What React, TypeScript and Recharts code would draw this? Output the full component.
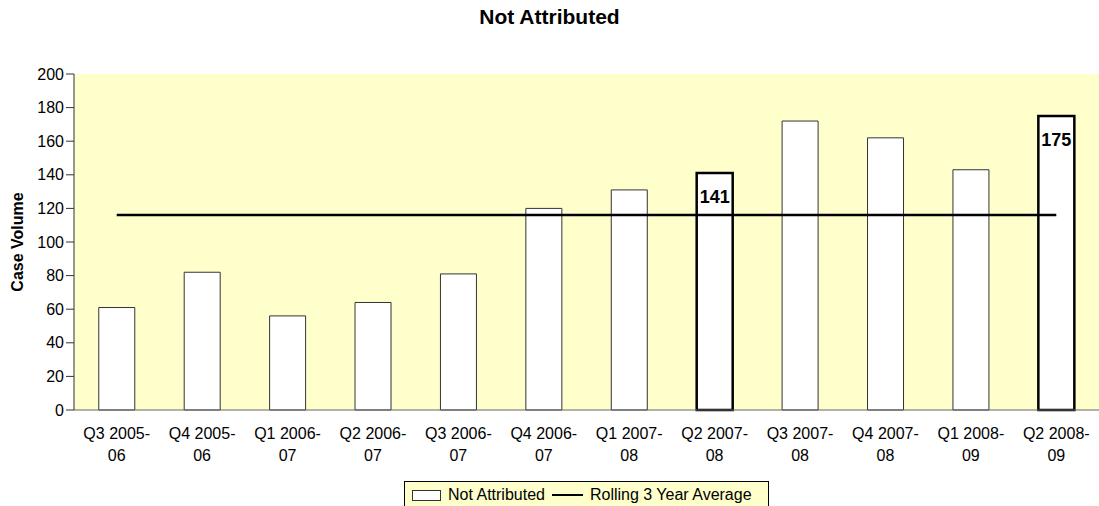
import { Bar, Cell, ComposedChart, LabelList, Line, XAxis, YAxis, Label } from "recharts";

const quarters = [
  "Q3 2005-06",
  "Q4 2005-06",
  "Q1 2006-07",
  "Q2 2006-07",
  "Q3 2006-07",
  "Q4 2006-07",
  "Q1 2007-08",
  "Q2 2007-08",
  "Q3 2007-08",
  "Q4 2007-08",
  "Q1 2008-09",
  "Q2 2008-09",
];
const notAttributed = [61, 82, 56, 64, 81, 120, 131, 141, 172, 162, 143, 175];
const rollingAverage = [116, 116, 116, 116, 116, 116, 116, 116, 116, 116, 116, 116];
const labelledQuarters = ["Q2 2007-08", "Q2 2008-09"];
const yTicks = [0, 20, 40, 60, 80, 100, 120, 140, 160, 180, 200];

const data = quarters.map((quarter, i) => ({
  quarter,
  value: notAttributed[i],
  avg: rollingAverage[i],
}));

const font = "'Liberation Sans', Arial, sans-serif";

function QuarterTick({ x, y, payload }: { x?: number; y?: number; payload?: { value: string } }) {
  const text = payload?.value ?? "";
  const cut = text.indexOf("-") + 1;
  return (
    <text x={x} y={y} textAnchor="middle" fill="#000" fontSize={16} fontFamily={font}>
      <tspan x={x} dy={29}>
        {text.slice(0, cut)}
      </tspan>
      <tspan x={x} dy={22}>
        {text.slice(cut)}
      </tspan>
    </text>
  );
}

function ValueLabel(props: any) {
  const { x, y, width, value, index } = props;
  if (!labelledQuarters.includes(quarters[index])) return null;
  return (
    <text
      x={x + width / 2}
      y={y + 30}
      textAnchor="middle"
      fontSize={18}
      fontWeight="bold"
      fontFamily={font}
      fill="#000"
    >
      {value}
    </text>
  );
}

export default function App() {
  return (
    <div style={{ position: "relative", width: 1099, height: 506, fontFamily: font, background: "#fff", overflow: "hidden" }}>
      <style>{"body{margin:0}"}</style>
      <div
        style={{
          position: "absolute",
          top: 5,
          left: 0,
          width: 1099,
          textAlign: "center",
          fontSize: 21,
          fontWeight: "bold",
          lineHeight: "24px",
        }}
      >
        Not Attributed
      </div>
      <ComposedChart
        width={1099}
        height={506}
        data={data}
        margin={{ top: 74, right: 0, bottom: 0, left: 0 }}
        barCategoryGap="29%"
      >
        <rect x={74} y={74} width={1025} height={336} fill="#FFFFCC" />
        <XAxis
          dataKey="quarter"
          tickLine={false}
          tickSize={0}
          tickMargin={0}
          axisLine={{ stroke: "#666", strokeWidth: 1 }}
          tick={<QuarterTick />}
          interval={0}
          height={96}
        />
        <YAxis
          domain={[0, 200]}
          ticks={yTicks}
          width={74}
          tickSize={8}
          tickMargin={2}
          axisLine={{ stroke: "#333", strokeWidth: 1 }}
          tickLine={{ stroke: "#333", strokeWidth: 1 }}
          tick={{ fill: "#000", fontSize: 16, fontFamily: font }}
        >
          <Label
            value="Case Volume"
            angle={-90}
            position="insideLeft"
            offset={17}
            style={{ fontSize: 16, fontWeight: "bold", fill: "#000", fontFamily: font, textAnchor: "middle" }}
          />
        </YAxis>
        <Bar dataKey="value" fill="#fff" isAnimationActive={false}>
          {data.map((d) => (
            <Cell
              key={d.quarter}
              stroke={labelledQuarters.includes(d.quarter) ? "#000" : "#333"}
              strokeWidth={labelledQuarters.includes(d.quarter) ? 2.5 : 1}
            />
          ))}
          <LabelList dataKey="value" content={<ValueLabel />} />
        </Bar>
        <Line
          dataKey="avg"
          stroke="#000"
          strokeWidth={2.5}
          dot={false}
          activeDot={false}
          isAnimationActive={false}
        />
      </ComposedChart>
      <div
        style={{
          position: "absolute",
          left: 404,
          top: 481,
          width: 363,
          height: 26,
          border: "1px solid #000",
          background: "#FFFFCC",
          display: "flex",
          alignItems: "center",
          fontSize: 16,
          whiteSpace: "nowrap",
        }}
      >
        <span
          style={{
            display: "inline-block",
            marginLeft: 7,
            width: 27,
            height: 9,
            border: "1px solid #333",
            background: "#fff",
          }}
        />
        <span style={{ marginLeft: 7 }}>Not Attributed</span>
        <span
          style={{ display: "inline-block", marginLeft: 7, width: 31, height: 2, background: "#000" }}
        />
        <span style={{ marginLeft: 7 }}>Rolling 3 Year Average</span>
      </div>
    </div>
  );
}
